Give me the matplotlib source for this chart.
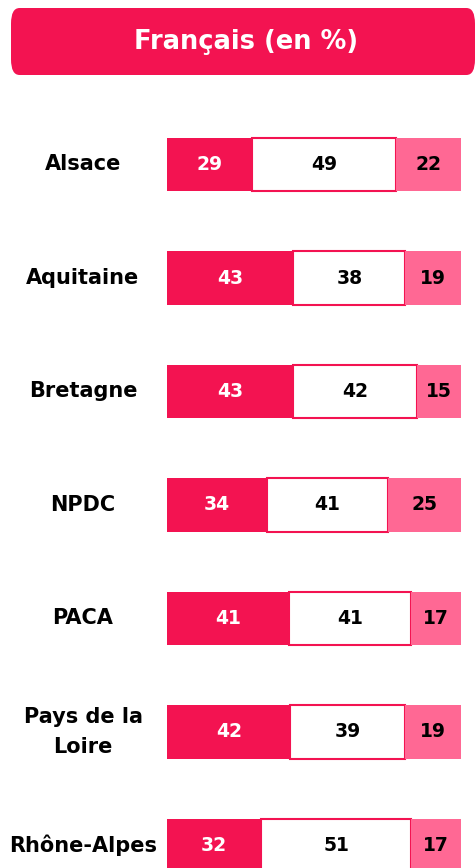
import numpy as np
import matplotlib.pyplot as plt
from matplotlib.patches import FancyBboxPatch
import matplotlib.transforms as mtransforms

# data
regions = ["Alsace", "Aquitaine", "Bretagne", "NPDC", "PACA", "Pays de la\nLoire", "Rhône-Alpes"]
part1 = [29, 43, 43, 34, 41, 42, 32]
part2 = [49, 38, 42, 41, 41, 39, 51]
part3 = [22, 19, 15, 25, 17, 19, 17]

deep = "#F31351"
light = "#FF6894"

W, H = 475, 868
fig = plt.figure(figsize=(W / 100, H / 100), dpi=100)

# title box
box = FancyBboxPatch((11 / W, 1 - 75 / H), (475 - 11) / W, 67 / H,
                     boxstyle="round,pad=0,rounding_size=0.018",
                     transform=fig.transFigure, facecolor=deep, edgecolor="none")
fig.patches.append(box)
fig.text(246 / W, 1 - 42 / H, "Français (en %)", color="white", fontsize=18.5,
         fontweight="bold", ha="center", va="center")

ax = fig.add_axes([167 / W, 0, 294 / W, 1])
y = np.arange(len(regions))
h = 0.467

p1 = np.array(part1, dtype=float)
p2 = np.array(part2, dtype=float)
p3 = np.array(part3, dtype=float)
# bars are drawn as shares of the row total (labels are rounded)
tot = p1 + p2 + p3
w1, w2, w3 = p1 / tot * 100, p2 / tot * 100, p3 / tot * 100

ax.barh(y, w1, height=h, color=deep, edgecolor="none")
ax.barh(y, w2, left=w1, height=h, color="white", edgecolor=deep, linewidth=1.5)
ax.barh(y, w3, left=w1 + w2, height=h, color=light, edgecolor="none")

for i in range(len(regions)):
    ax.text(w1[i] / 2, y[i], part1[i], color="white", fontsize=13.5,
            fontweight="bold", ha="center", va="center")
    ax.text(w1[i] + w2[i] / 2, y[i], part2[i], color="black", fontsize=13.5,
            fontweight="bold", ha="center", va="center")
    ax.text(w1[i] + w2[i] + w3[i] / 2, y[i], part3[i], color="black",
            fontsize=13.5, fontweight="bold", ha="center", va="center")

lab_tr = mtransforms.blended_transform_factory(fig.transFigure, ax.transData)
for i, r in enumerate(regions):
    ax.text(83 / W, y[i], r, transform=lab_tr, fontsize=15, fontweight="bold",
            ha="center", va="center", linespacing=1.6)

ax.set_xlim(0, 100)
ax.set_ylim((868 - 164.5) / 113.5, -164.5 / 113.5)
ax.axis("off")

fig.savefig("out.png", dpi=100)
